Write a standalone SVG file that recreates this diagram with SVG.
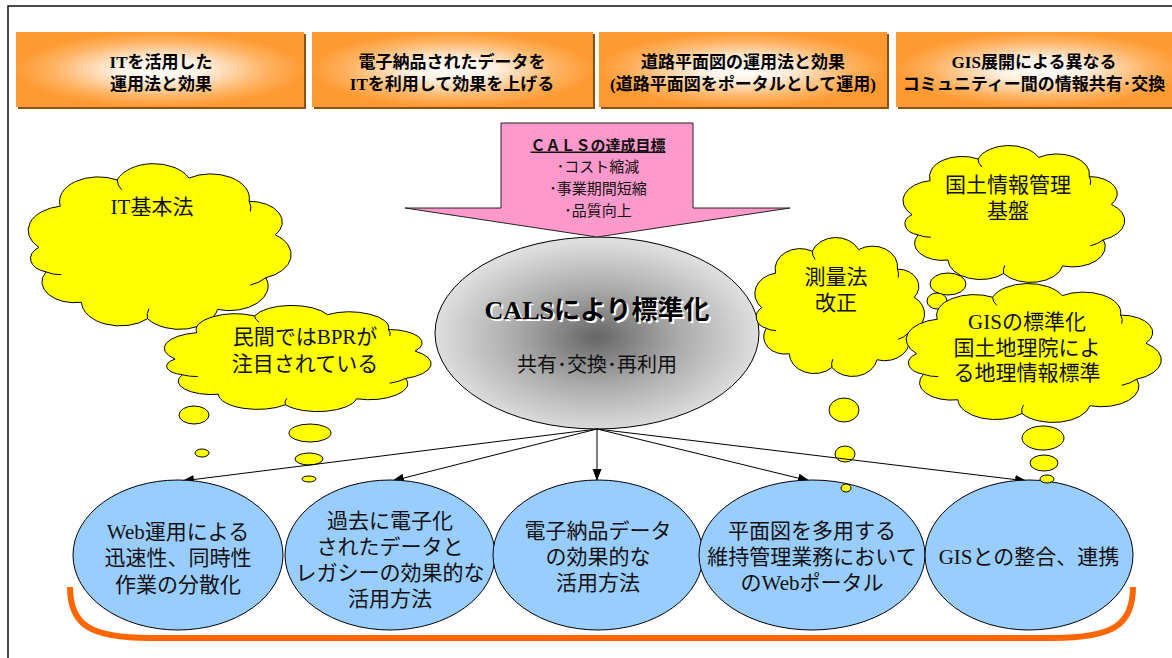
<svg xmlns="http://www.w3.org/2000/svg" width="1172" height="658" viewBox="0 0 1172 658">
<defs>
<style>
.hd{font-family:"Liberation Serif","Noto Sans CJK JP",serif;font-weight:bold;font-size:17px;text-anchor:middle;fill:#000}
.tx{font-family:"Liberation Serif","Noto Sans CJK JP",serif;font-size:21px;text-anchor:middle;fill:#111}
.ar{font-family:"Noto Sans CJK JP",sans-serif;font-size:15px;text-anchor:middle;fill:#111}
.cloud{fill:#FFFF00;stroke:#000}
.bub{fill:#FFFF00;stroke:#000;stroke-width:1}
.blue{fill:#99CCFF;stroke:#000;stroke-width:1}
.conn{stroke:#000;stroke-width:1;fill:none;marker-end:url(#ah)}
.hbox{fill:url(#og)}
.hsh{fill:#8a5214}
</style>
<radialGradient id="og" cx="0.5" cy="0.5" r="0.5">
<stop offset="0" stop-color="#ffffff"/>
<stop offset="0.3" stop-color="#fff0e2"/>
<stop offset="0.75" stop-color="#ffb260"/>
<stop offset="1" stop-color="#ff9a33"/>
</radialGradient>
<radialGradient id="gg" cx="0.5" cy="0.52" r="0.5">
<stop offset="0" stop-color="#666666"/>
<stop offset="0.5" stop-color="#aaaaaa"/>
<stop offset="1" stop-color="#dedede"/>
</radialGradient>
<marker id="ah" markerWidth="13" markerHeight="10" refX="12" refY="4.5" orient="auto" markerUnits="userSpaceOnUse">
<path d="M0,0 L12,4.5 L0,9 z" fill="#000"/>
</marker>
<path id="cl" vector-effect="non-scaling-stroke" d="M10,50 A13,13 0 0,1 17.2,28.2 A13,13 0 0,1 36.3,14.3 A13,13 0 0,1 60.4,13.3 A13,13 0 0,1 80.6,25.6 A11,11 0 0,1 89.4,43.4 A13,13 0 0,1 86.2,66.1 A13,13 0 0,1 70,82.9 A13,13 0 0,1 46.5,87.8 A13,13 0 0,1 24.3,79.1 A11,11 0 0,1 12.4,63 A7.5,7.5 0 0,1 10,50 Z M36.3,14.3 A10,10 0 0,0 37.8,19.5 M80.6,25.6 A10,10 0 0,1 81,31 M86.2,66.1 A12,12 0 0,1 81,70 M46.5,87.8 A10,10 0 0,1 47,82.5 M12.4,63 A9,9 0 0,0 17.5,64.5"/>
</defs>

<rect width="1172" height="658" fill="#fff"/>
<path d="M8,658 L8,6 L1172,6" fill="none" stroke="#111" stroke-width="1.5"/>

<g id="header1">
<rect class="hsh" x="18" y="34" width="288" height="75"/>
<rect class="hbox" x="16" y="32" width="288" height="75"/>
<text class="hd" x="161" y="68">ITを活用した</text>
<text class="hd" x="161" y="90">運用法と効果</text>
</g>
<g id="header2">
<rect class="hsh" x="314" y="34" width="281" height="75"/>
<rect class="hbox" x="312" y="32" width="281" height="75"/>
<text class="hd" x="452" y="68">電子納品されたデータを</text>
<text class="hd" x="452" y="90">ITを利用して効果を上げる</text>
</g>
<g id="header3">
<rect class="hsh" x="601" y="34" width="288" height="75"/>
<rect class="hbox" x="599" y="32" width="288" height="75"/>
<text class="hd" x="743" y="68">道路平面図の運用法と効果</text>
<text class="hd" x="743" y="90">(道路平面図をポータルとして運用)</text>
</g>
<g id="header4">
<rect class="hsh" x="898" y="34" width="290" height="75"/>
<rect class="hbox" x="896" y="32" width="290" height="75"/>
<text class="hd" x="1034" y="68">GIS展開による異なる</text>
<text class="hd" x="1034" y="90">コミュニティー間の情報共有･交換</text>
</g>

<g id="cloud-it">
<use href="#cl" class="cloud" transform="translate(9.1,153) scale(2.978,1.887)"/>
<text class="tx" x="152" y="214">IT基本法</text>
<ellipse class="bub" cx="194" cy="415" rx="15" ry="9"/>
<ellipse class="bub" cx="202" cy="453" rx="7" ry="4"/>
</g>

<g id="cloud-bpr">
<use href="#cl" class="cloud" transform="translate(144.9,298.6) scale(3.022,1.209)"/>
<text class="tx" x="305" y="344">民間ではBPRが</text>
<text class="tx" x="305" y="371">注目されている</text>
<ellipse class="bub" cx="310" cy="433" rx="21" ry="9"/>
<ellipse class="bub" cx="309" cy="459" rx="14" ry="6"/>
<ellipse class="bub" cx="309" cy="479" rx="7" ry="3"/>
</g>

<g id="cals">
<ellipse cx="597" cy="333" rx="162" ry="96" fill="url(#gg)" stroke="#000" stroke-width="1"/>
<text x="599" y="321" text-anchor="middle" font-family="'Liberation Serif','Noto Sans CJK JP',serif" font-weight="bold" font-size="26" fill="#fff">CALSにより標準化</text>
<text x="597" y="319" text-anchor="middle" font-family="'Liberation Serif','Noto Sans CJK JP',serif" font-weight="bold" font-size="26" fill="#000">CALSにより標準化</text>
<text x="597" y="372" text-anchor="middle" font-family="'Noto Sans CJK JP',sans-serif" font-size="20" fill="#111">共有･交換･再利用</text>
</g>

<g id="goal">
<path d="M501,123 L693,123 L693,208 L790,208 L597,237 L405,208 L501,208 Z" fill="#FF99CC" stroke="#222" stroke-width="1"/>
<text class="ar" x="598" y="150.5" font-weight="bold" text-decoration="underline">ＣＡＬＳの達成目標</text>
<text class="ar" x="598" y="172.2">･コスト縮減</text>
<text class="ar" x="598" y="193.9">･事業期間短縮</text>
<text class="ar" x="598" y="215.6">･品質向上</text>
</g>

<g id="cloud-kokudo">
<use href="#cl" class="cloud" transform="translate(886.9,136.7) scale(2.511,1.559)"/>
<text class="tx" x="1008" y="192">国土情報管理</text>
<text class="tx" x="1008" y="218">基盤</text>
<ellipse class="bub" cx="948" cy="284" rx="18" ry="11"/>
<ellipse class="bub" cx="937" cy="301" rx="10" ry="8"/>
</g>

<g id="cloud-sokuryo">
<use href="#cl" class="cloud" transform="translate(742.5,228.6) scale(1.922,1.582)"/>
<text class="tx" x="836" y="284">測量法</text>
<text class="tx" x="836" y="310">改正</text>
<ellipse class="bub" cx="844" cy="410" rx="15" ry="12"/>
<ellipse class="bub" cx="845" cy="454" rx="10" ry="8"/>
</g>

<g id="cloud-gis">
<use href="#cl" class="cloud" transform="translate(887.7,274.6) scale(2.889,1.582)"/>
<text class="tx" x="1027" y="329">GISの標準化</text>
<text class="tx" x="1027" y="355">国土地理院によ</text>
<text class="tx" x="1027" y="380">る地理情報標準</text>
<ellipse class="bub" cx="1043" cy="438" rx="21" ry="12"/>
<ellipse class="bub" cx="1044" cy="463" rx="14" ry="8"/>
</g>

<g id="connectors">
<line class="conn" x1="597" y1="429" x2="182" y2="481"/>
<line class="conn" x1="597" y1="429" x2="392" y2="481"/>
<line class="conn" x1="597" y1="429" x2="597" y2="481"/>
<line class="conn" x1="597" y1="429" x2="810" y2="481"/>
<line class="conn" x1="597" y1="429" x2="1027" y2="481"/>
</g>

<g id="e1">
<ellipse class="blue" cx="178" cy="555" rx="105" ry="75"/>
<text class="tx" x="178" y="539">Web運用による</text>
<text class="tx" x="178" y="565">迅速性、同時性</text>
<text class="tx" x="178" y="592">作業の分散化</text>
</g>
<g id="e2">
<ellipse class="blue" cx="390" cy="555" rx="105" ry="75"/>
<text class="tx" x="390" y="528">過去に電子化</text>
<text class="tx" x="390" y="554">されたデータと</text>
<text class="tx" x="390" y="580">レガシーの効果的な</text>
<text class="tx" x="390" y="606">活用方法</text>
</g>
<g id="e3">
<ellipse class="blue" cx="598" cy="555" rx="105" ry="75"/>
<text class="tx" x="598" y="538">電子納品データ</text>
<text class="tx" x="598" y="564">の効果的な</text>
<text class="tx" x="598" y="590">活用方法</text>
</g>
<g id="e4">
<ellipse class="blue" cx="812" cy="555" rx="113" ry="75"/>
<text class="tx" x="812" y="538">平面図を多用する</text>
<text class="tx" x="812" y="564">維持管理業務において</text>
<text class="tx" x="812" y="590">のWebポータル</text>
<ellipse class="bub" cx="846" cy="488" rx="5" ry="4"/>
</g>
<g id="e5">
<ellipse class="blue" cx="1029" cy="555" rx="104" ry="75"/>
<text class="tx" x="1029" y="564">GISとの整合、連携</text>
<ellipse class="bub" cx="1047" cy="479" rx="7" ry="4"/>
</g>

<path id="bracket" d="M70,587 C70,625 90,638 150,638 L1053,638 C1113,638 1133,625 1133,587" fill="none" stroke="#FF6600" stroke-width="6"/>
</svg>
